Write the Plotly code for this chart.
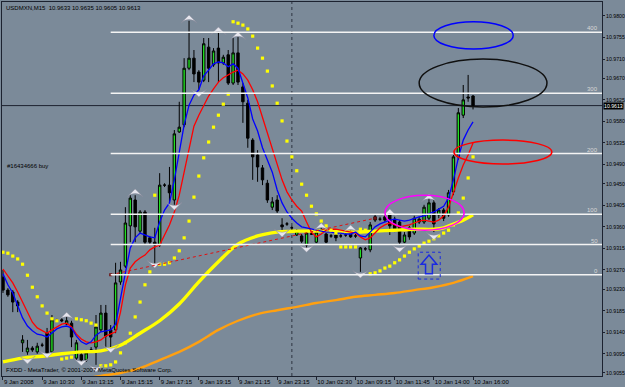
import plotly.graph_objects as go

# ---------------- data (USDMXN M15) ----------------
bars = list(range(97))
opens = [10.9255,10.9228,10.9224,10.9203,10.9118,10.9099,10.9107,10.9099,10.9113,10.9138,
         10.9099,10.9166,10.9166,10.9157,10.9159,10.9086,10.9093,10.9082,10.9103,10.9109,
         10.9145,10.9180,10.9145,10.9145,10.9245,10.9278,10.9362,10.9416,10.9351,10.9391,
         10.9337,10.9328,10.9322,10.9447,10.9447,10.9416,10.9558,10.9573,10.9691,10.9712,
         10.9683,10.9666,10.9735,10.9698,10.9733,10.9702,10.9719,10.9660,10.9723,10.9652,
         10.9618,10.9541,10.9510,10.9483,10.9451,10.9401,10.9416,10.9364,10.9366,10.9358,
         10.9343,10.9341,10.9322,10.9345,10.9328,10.9351,10.9345,10.9341,10.9343,10.9341,
         10.9343,10.9347,10.9341,10.9295,10.9314,10.9312,10.9381,10.9376,10.9381,10.9385,
         10.9376,10.9370,10.9328,10.9358,10.9347,10.9376,10.9370,10.9378,10.9410,10.9385,
         10.9395,10.9385,10.9433,10.9506,10.9593,10.9631,10.9633]
highs = [10.9270,10.9232,10.9228,10.9207,10.9134,10.9124,10.9111,10.9118,10.9118,10.9149,
         10.9176,10.9168,10.9170,10.9172,10.9164,10.9124,10.9097,10.9103,10.9109,10.9176,
         10.9197,10.9197,10.9155,10.9285,10.9287,10.9401,10.9426,10.9426,10.9395,10.9395,
         10.9341,10.9358,10.9472,10.9451,10.9485,10.9562,10.9621,10.9712,10.9790,10.9729,
         10.9687,10.9754,10.9754,10.9733,10.9765,10.9719,10.9729,10.9754,10.9756,10.9660,
         10.9625,10.9545,10.9520,10.9489,10.9458,10.9422,10.9426,10.9378,10.9370,10.9362,
         10.9355,10.9345,10.9349,10.9347,10.9353,10.9358,10.9349,10.9345,10.9347,10.9345,
         10.9347,10.9353,10.9345,10.9318,10.9318,10.9370,10.9385,10.9381,10.9385,10.9391,
         10.9381,10.9374,10.9349,10.9362,10.9383,10.9381,10.9406,10.9420,10.9416,10.9399,
         10.9399,10.9437,10.9510,10.9608,10.9656,10.9677,10.9635]
lows = [10.9222,10.9214,10.9182,10.9182,10.9099,10.9093,10.9099,10.9095,10.9109,10.9093,
        10.9097,10.9164,10.9161,10.9155,10.9109,10.9082,10.9076,10.9078,10.9099,10.9072,
        10.9141,10.9103,10.9109,10.9138,10.9239,10.9274,10.9328,10.9328,10.9347,10.9322,
        10.9322,10.9280,10.9318,10.9443,10.9410,10.9406,10.9556,10.9568,10.9687,10.9662,
        10.9646,10.9662,10.9662,10.9694,10.9662,10.9698,10.9656,10.9656,10.9656,10.9577,
        10.9525,10.9458,10.9454,10.9447,10.9410,10.9395,10.9389,10.9353,10.9362,10.9353,
        10.9341,10.9326,10.9316,10.9343,10.9326,10.9347,10.9326,10.9337,10.9330,10.9337,
        10.9339,10.9337,10.9337,10.9266,10.9310,10.9307,10.9370,10.9372,10.9370,10.9343,
        10.9349,10.9322,10.9326,10.9333,10.9343,10.9366,10.9366,10.9374,10.9349,10.9378,
        10.9372,10.9381,10.9426,10.9500,10.9587,10.9621,10.9605]
closes = [10.9228,10.9218,10.9203,10.9195,10.9124,10.9107,10.9103,10.9111,10.9113,10.9097,
          10.9166,10.9166,10.9164,10.9164,10.9130,10.9118,10.9082,10.9097,10.9103,10.9151,
          10.9180,10.9132,10.9130,10.9243,10.9270,10.9368,10.9420,10.9360,10.9391,10.9328,
          10.9328,10.9322,10.9447,10.9447,10.9431,10.9554,10.9568,10.9691,10.9712,10.9679,
          10.9662,10.9742,10.9691,10.9727,10.9702,10.9714,10.9660,10.9723,10.9662,10.9621,
          10.9545,10.9506,10.9485,10.9458,10.9416,10.9412,10.9393,10.9360,10.9366,10.9358,
          10.9351,10.9330,10.9347,10.9345,10.9349,10.9351,10.9328,10.9341,10.9337,10.9341,
          10.9343,10.9339,10.9341,10.9316,10.9314,10.9364,10.9374,10.9376,10.9374,10.9362,
          10.9355,10.9328,10.9343,10.9339,10.9378,10.9370,10.9401,10.9410,10.9366,10.9395,
          10.9378,10.9431,10.9506,10.9598,10.9625,10.9629,10.9613]

ma_blue = [10.9262,10.9239,10.9222,10.9197,10.9170,10.9153,10.9143,10.9136,10.9134,10.9130,
           10.9138,10.9147,10.9151,10.9153,10.9149,10.9132,10.9120,10.9115,10.9120,10.9134,
           10.9141,10.9143,10.9145,10.9157,10.9207,10.9264,10.9316,10.9337,10.9347,10.9343,
           10.9339,10.9337,10.9370,10.9395,10.9410,10.9458,10.9520,10.9573,10.9614,10.9635,
           10.9646,10.9675,10.9687,10.9700,10.9704,10.9702,10.9694,10.9700,10.9691,10.9662,
           10.9629,10.9585,10.9560,10.9525,10.9500,10.9474,10.9437,10.9410,10.9391,10.9378,
           10.9368,10.9360,10.9358,10.9355,10.9353,10.9351,10.9349,10.9349,10.9347,10.9347,
           10.9345,10.9345,10.9349,10.9341,10.9339,10.9349,10.9360,10.9366,10.9370,10.9374,
           10.9376,10.9374,10.9372,10.9374,10.9378,10.9381,10.9383,10.9387,10.9391,10.9397,
           10.9403,10.9420,10.9458,10.9504,10.9541,10.9562,10.9579]
ma_red = [10.9272,10.9257,10.9243,10.9224,10.9203,10.9182,10.9161,10.9149,10.9143,10.9138,
          10.9145,10.9151,10.9157,10.9159,10.9151,10.9136,10.9126,10.9120,10.9118,10.9120,
          10.9124,10.9132,10.9136,10.9141,10.9182,10.9239,10.9274,10.9287,10.9295,10.9301,
          10.9312,10.9318,10.9322,10.9343,10.9364,10.9391,10.9426,10.9474,10.9525,10.9570,
          10.9593,10.9614,10.9633,10.9648,10.9662,10.9671,10.9677,10.9683,10.9687,10.9679,
          10.9666,10.9646,10.9621,10.9589,10.9552,10.9520,10.9489,10.9458,10.9433,10.9416,
          10.9403,10.9393,10.9370,10.9349,10.9339,10.9345,10.9353,10.9355,10.9355,10.9353,
          10.9351,10.9349,10.9347,10.9339,10.9333,10.9337,10.9347,10.9358,10.9364,10.9368,
          10.9364,10.9360,10.9362,10.9364,10.9368,10.9372,10.9374,10.9372,10.9370,10.9374,
          10.9383,10.9401,10.9433,10.9462,10.9489,10.9510,10.9535]

yellow_bars = [0,4,8,12,16,20,24,28,32,36,40,44,48,52,56,60,64,68,72,76,80,84,88,90,92,94,96]
ma_yellow = [10.9078,10.9086,10.9090,10.9095,10.9099,10.9101,10.9113,10.9138,10.9164,10.9199,
             10.9245,10.9287,10.9324,10.9341,10.9349,10.9351,10.9351,10.9351,10.9349,10.9351,
             10.9353,10.9355,10.9355,10.9358,10.9366,10.9374,10.9385]
orange_bars = [16,20,24,28,32,36,40,44,48,52,56,60,64,68,72,76,80,84,88,92,96]
ma_orange = [10.9042,10.9049,10.9055,10.9065,10.9082,10.9099,10.9120,10.9145,10.9164,10.9178,
             10.9186,10.9193,10.9201,10.9207,10.9214,10.9218,10.9222,10.9228,10.9234,10.9243,
             10.9257]

sar = [10.9307,10.9305,10.9299,10.9293,10.9282,10.9259,10.9234,10.9214,10.9195,10.9180,
       10.9168,10.9164,10.9084,10.9086,10.9088,10.9168,10.9166,10.9164,10.9159,10.9155,
       10.9070,10.9070,10.9072,10.9078,10.9097,10.9118,10.9138,10.9172,10.9203,10.9239,
       10.9266,10.9426,10.9282,10.9282,10.9285,10.9295,10.9310,10.9337,10.9372,10.9422,
       10.9466,10.9504,10.9537,10.9568,10.9593,10.9616,10.9637,10.9788,10.9785,10.9781,
       10.9773,10.9758,10.9733,10.9712,10.9685,10.9654,10.9618,10.9581,10.9539,10.9506,
       10.9477,10.9449,10.9426,10.9403,10.9387,10.9372,10.9362,10.9353,10.9347,10.9318,
       10.9318,10.9318,10.9318,10.9355,10.9353,10.9262,10.9264,10.9268,10.9274,10.9278,
       10.9285,10.9291,10.9299,10.9307,10.9314,10.9320,10.9326,10.9330,10.9335,10.9341,
       10.9347,10.9353,10.9364,10.9389,10.9420,10.9462,10.9506]

frac_up_bars = [13,27,38,44,48,65,71,79,87]
frac_up_vals = [10.9182,10.9439,10.9802,10.9777,10.9767,10.9368,10.9364,10.9397,10.9428]
frac_dn_bars = [5,9,16,19,22,31,35,40,57,62,73,81,88]
frac_dn_vals = [10.9074,10.9086,10.9070,10.9057,10.9097,10.9274,10.9395,10.9631,10.9339,10.9307,
                10.9253,10.9307,10.9333]

fib_labels = ["0", "50", "100", "200", "300", "400"]
fib_prices = [10.9260, 10.9323, 10.9386, 10.9513, 10.9639, 10.9766]
fib_start_bar = 22

trade_bars = [22, 76]
trade_prices = [10.9260, 10.9378]

x_tick_bars = [0, 8, 16, 24, 32, 40, 48, 56, 64, 72, 80, 88, 96]
x_tick_text = ["9 Jan 2008", "9 Jan 10:30", "9 Jan 13:15", "9 Jan 15:15", "9 Jan 17:15",
               "9 Jan 19:15", "9 Jan 21:15", "9 Jan 23:15", "10 Jan 02:30", "10 Jan 09:15",
               "10 Jan 11:45", "10 Jan 14:00", "10 Jan 16:00"]
y_tick_vals = [10.9800, 10.9755, 10.9710, 10.9670, 10.9625, 10.9580, 10.9535, 10.9490, 10.9450,
               10.9405, 10.9360, 10.9315, 10.9270, 10.9230, 10.9185, 10.9140, 10.9095, 10.9055]

current_price = 10.9613
separator_bar = 59
header = "USDMXN,M15  10.9633 10.9635 10.9605 10.9613"

# ---------------- figure ----------------
BG = "#7b8a99"
FONT = "Liberation Sans"
X_RANGE = [-0.2, 122.34]
Y_RANGE = [10.90487, 10.98292]

fig = go.Figure()

fig.add_trace(go.Candlestick(
    x=bars, open=opens, high=highs, low=lows, close=closes,
    increasing=dict(line=dict(color="#000000", width=1), fillcolor="#22e022"),
    decreasing=dict(line=dict(color="#000000", width=1), fillcolor="#000000"),
    whiskerwidth=0, hoverinfo="skip", showlegend=False))

fig.add_trace(go.Scatter(x=orange_bars, y=ma_orange, mode="lines",
                         line=dict(color="#ffa010", width=2.4, shape="spline"),
                         hoverinfo="skip", showlegend=False))
fig.add_trace(go.Scatter(x=yellow_bars, y=ma_yellow, mode="lines",
                         line=dict(color="#ffff00", width=3.4, shape="spline"),
                         hoverinfo="skip", showlegend=False))
fig.add_trace(go.Scatter(x=bars, y=ma_red, mode="lines",
                         line=dict(color="#ff0000", width=1.3),
                         hoverinfo="skip", showlegend=False))
fig.add_trace(go.Scatter(x=bars, y=ma_blue, mode="lines",
                         line=dict(color="#0000ff", width=1.3),
                         hoverinfo="skip", showlegend=False))
fig.add_trace(go.Scatter(x=bars, y=sar, mode="markers",
                         marker=dict(symbol="square", size=3.2, color="#ffff00", line=dict(width=0)),
                         hoverinfo="skip", showlegend=False))
fig.add_trace(go.Scatter(x=frac_up_bars, y=frac_up_vals, mode="markers",
                         marker=dict(symbol="arrow-wide", size=11, color="#e6e6ee",
                                     line=dict(color="#8c8c9c", width=0.5)),
                         hoverinfo="skip", showlegend=False))
fig.add_trace(go.Scatter(x=frac_dn_bars, y=frac_dn_vals, mode="markers",
                         marker=dict(symbol="arrow-wide", angle=180, size=11, color="#e6e6ee",
                                     line=dict(color="#8c8c9c", width=0.5)),
                         hoverinfo="skip", showlegend=False))
fig.add_trace(go.Scatter(x=trade_bars, y=trade_prices, mode="lines+markers",
                         line=dict(color="#e01010", width=1, dash="dot"),
                         marker=dict(symbol="square", size=3, color="#701010"),
                         hoverinfo="skip", showlegend=False))

shapes = []
# day separator
shapes.append(dict(type="line", xref="x", yref="paper", x0=separator_bar, x1=separator_bar,
                   y0=0, y1=1, line=dict(color="#2e3440", width=1, dash="dot"), layer="below"))
# bid line
shapes.append(dict(type="line", xref="paper", yref="y", x0=0, x1=1, y0=current_price,
                   y1=current_price, line=dict(color="#1c2230", width=1), layer="below"))
# fibonacci expansion levels
for p in fib_prices:
    shapes.append(dict(type="line", xref="x", yref="y", x0=fib_start_bar, x1=X_RANGE[1],
                       y0=p, y1=p, line=dict(color="#f4f4f4", width=1.5), layer="above"))
# hand-drawn ellipses
ellipses = [((88.0, 104.2), (10.9731, 10.9788), "#0000ff"),
            ((85.0, 111.1), (10.9610, 10.9710), "#101010"),
            ((92.1, 112.1), (10.9491, 10.9541), "#ff0000"),
            ((78.0, 94.2), (10.9353, 10.9426), "#ff00ff")]
for (xa, xb), (ya, yb), col in ellipses:
    shapes.append(dict(type="circle", xref="x", yref="y", x0=xa, x1=xb, y0=ya, y1=yb,
                       line=dict(color=col, width=1.5), layer="above"))
# buy arrow in dotted box
shapes.append(dict(type="rect", xref="x", yref="y", x0=84.8, x1=89.3, y0=10.9251, y1=10.9307,
                   line=dict(color="#1a2ae0", width=1, dash="dot"), layer="above"))
shapes.append(dict(type="path", xref="x", yref="y",
                   path="M 87.0,10.9301 L 88.6,10.9282 L 87.7,10.9282 L 87.7,10.9262 "
                        "L 86.3,10.9262 L 86.3,10.9282 L 85.4,10.9282 Z",
                   line=dict(color="#1a2ae0", width=1.5), layer="above"))

annotations = []
annotations.append(dict(text=header, xref="paper", yref="paper", x=0, y=1, xanchor="left",
                        yanchor="top", xshift=2, yshift=-1, showarrow=False,
                        font=dict(family=FONT, size=6, color="#000000")))
annotations.append(dict(text="#16434666 buy", xref="paper", yref="y", x=0, y=10.9487,
                        xanchor="left", yanchor="middle", xshift=3, showarrow=False,
                        font=dict(family=FONT, size=6, color="#000000")))
annotations.append(dict(text="FXDD - MetaTrader, \u00a9 2001-2007 MetaQuotes Software Corp.",
                        xref="paper", yref="y", x=0, y=10.9061, xanchor="left",
                        yanchor="middle", xshift=2, showarrow=False,
                        font=dict(family=FONT, size=6, color="#000000")))
annotations.append(dict(text="10.9613", xref="paper", yref="y", x=1, y=current_price,
                        xanchor="left", yanchor="middle", xshift=1, showarrow=False,
                        bgcolor="#000000", borderpad=0,
                        font=dict(family=FONT, size=5.2, color="#ffffff")))
for lab, p in zip(fib_labels, fib_prices):
    annotations.append(dict(text=lab, xref="paper", yref="y", x=1, y=p, xanchor="right",
                            yanchor="bottom", xshift=-2, yshift=-1, showarrow=False,
                            font=dict(family=FONT, size=6, color="#d8d8d8")))

fig.update_layout(
    width=625, height=387,
    margin=dict(l=2, r=23, t=2, b=11, pad=0, autoexpand=False),
    paper_bgcolor=BG, plot_bgcolor=BG,
    showlegend=False,
    shapes=shapes, annotations=annotations,
    font=dict(family=FONT, size=6, color="#000000"),
    xaxis=dict(range=X_RANGE, rangeslider=dict(visible=False), showgrid=False, zeroline=False,
               tickmode="array", tickvals=x_tick_bars, ticktext=x_tick_text,
               ticks="outside", ticklen=3, tickcolor="#1c2230", tickangle=0,
               ticklabelposition="outside right", automargin=False,
               tickfont=dict(family=FONT, size=6, color="#000000"),
               showline=True, linecolor="#1c2230", linewidth=1, mirror=True),
    yaxis=dict(range=Y_RANGE, side="right", showgrid=False, zeroline=False,
               tickmode="array", tickvals=y_tick_vals,
               ticktext=["%.4f" % v for v in y_tick_vals], automargin=False,
               ticks="outside", ticklen=2, tickcolor="#1c2230",
               tickfont=dict(family=FONT, size=5.2, color="#000000"),
               showline=True, linecolor="#1c2230", linewidth=1, mirror=True),
)

fig.write_html("out.html")
